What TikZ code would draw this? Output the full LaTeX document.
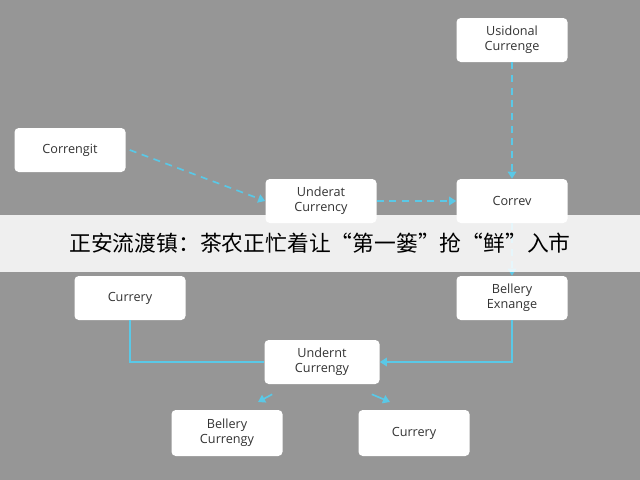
\documentclass[tikz,border=0pt]{standalone}
\usepackage{fontspec}
\setmainfont{Open Sans}
\newfontfamily\cjk{Noto Sans CJK SC}
\usetikzlibrary{arrows.meta}
\definecolor{bggray}{RGB}{150,150,150}
\definecolor{linkblue}{RGB}{90,200,230}
\tikzset{
  box/.style = {draw=none, fill=white, rounded corners=3pt, minimum width=111\pxu, minimum height=44\pxu, align=center, font=\fontsize{9}{10.5}\selectfont, text=black!80},
  link/.style = {draw=linkblue, line width=1.2pt, -{Triangle[width=6pt,length=5pt]}},
  dlink/.style = {link, dash pattern=on 5pt off 4pt},
}
\newlength{\pxu}\setlength{\pxu}{0.025cm}
\begin{document}
\begin{tikzpicture}[x=0.025cm, y=-0.025cm]
  \fill[bggray] (0,0) rectangle (640,480);
  \useasboundingbox (0,0) rectangle (640,480);

  % boxes
  \node[box] (usid) at (512,40) {Usidonal\\Currenge};
  \node[box] (corg) at (70,150) {Correngit};
  \node[box] (unda) at (321,201) {Underat\\Currency};
  \node[box] (corv) at (512,201) {Correv};
  \node[box] (curl) at (130,298) {Currery};
  \node[box] (belx) at (512,298) {Bellery\\Exnange};
  \node[box, minimum width=115\pxu] (undn) at (322,362) {Undernt\\Currengy};
  \node[box, minimum height=46\pxu] (belc) at (227,433) {Bellery\\Currengy};
  \node[box, minimum height=46\pxu] (curb) at (414,433) {Currery};

  % free ends of the short arrows
  \coordinate (sw) at (258,402);
  \coordinate (se) at (390,402);

  % links
  \draw[dlink] (usid) -- (corv);
  \draw[dlink] (corg.east) ++(4,0) -- (unda.west);
  \draw[dlink] (unda) -- (corv);
  \draw[dlink] (corv) -- (belx);
  \draw[link] (belx.south) |- (undn.east);
  \draw[draw=linkblue, line width=1.2pt] (curl.south) |- (undn.west);
  \draw[link] (undn.south west) ++(8,10) -- (sw);
  \draw[link] (undn.south east) ++(-8,10) -- (se);

  % banner
  \fill[white, opacity=0.85] (0,215) rectangle (640,272);
  \node[font=\cjk\fontsize{15.5}{17}\selectfont, text=black] (banner) at (320,243) {正安流渡镇：茶农正忙着让“第一篓”抢“鲜”入市};
\end{tikzpicture}
\end{document}
